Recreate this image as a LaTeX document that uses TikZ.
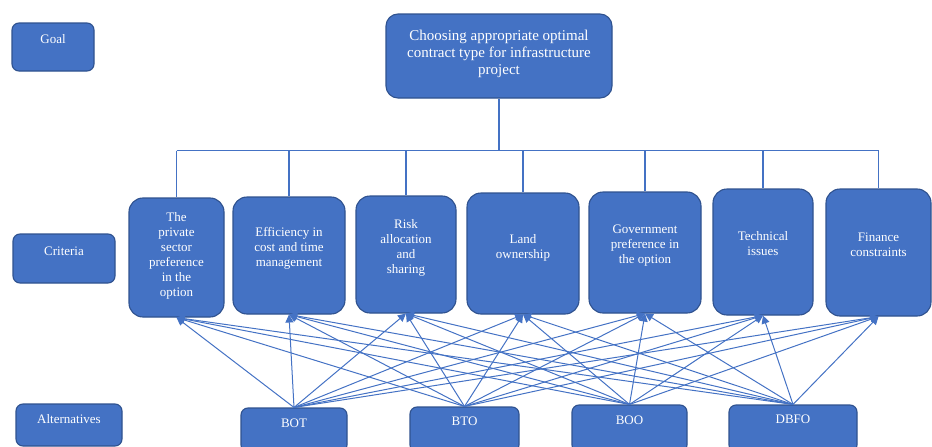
\documentclass[tikz,border=0pt]{standalone}
\usepackage{fontspec}
\setmainfont{Liberation Serif}
\usetikzlibrary{positioning,arrows.meta}
\definecolor{boxblue}{RGB}{68,114,196}
\definecolor{boxedge}{RGB}{47,82,143}
\tikzset{
	box/.style={draw=boxedge, fill=boxblue, line width=1.1pt, rounded corners=#1, inner sep=0pt},
	box/.default=14pt,
	lbl/.style={text=white, inner sep=0pt, align=center, font=\fontsize{13}{15}\selectfont},
	link/.style={draw=boxblue, line width=1.4pt},
	arr/.style={draw=boxblue, line width=1pt, -{Triangle[width=8pt,length=8pt]}}
}

\begin{document}
\begin{tikzpicture}[x=1pt, y=-1pt]
				\clip (0,0) rectangle (932,447);
				
				% levels
				\node[box=7pt, minimum width=82pt, minimum height=48pt] (gl) at (53,47) {};
				\node[lbl, below=12pt of gl.north] (glt) {Goal};
				\node[box=7pt, minimum width=102pt, minimum height=49pt] (cl) at (64,258.5) {};
				\node[lbl, below=13pt of cl.north] (clt) {Criteria};
				\node[box=7pt, minimum width=106pt, minimum height=42pt] (al) at (69,425) {};
				\node[lbl, below=11pt of al.north] (alt) {Alternatives};
				
				% goal
				\node[box=12pt, minimum width=226pt, minimum height=84pt] (goal) at (499,56) {};
				\node[lbl, font=\fontsize{15}{17}\selectfont, below=16pt of goal.north] (goalt) {Choosing appropriate optimal\\contract type for infrastructure\\project};
				
				% criteria
				\node[box, minimum width=95pt, minimum height=119pt] (c1) at (176.5,257.5) {};
				\node[lbl, below=15pt of c1.north] (t1) {The\\private\\sector\\preference\\in the\\option};
				\node[box, minimum width=112pt, minimum height=117pt] (c2) at (289,255.5) {};
				\node[lbl, below=31pt of c2.north] (t2) {Efficiency in\\cost and time\\management};
				\node[box, minimum width=100pt, minimum height=117pt] (c3) at (406,254.5) {};
				\node[lbl, below=24pt of c3.north] (t3) {Risk\\allocation\\and\\sharing};
				\node[box, minimum width=112pt, minimum height=121pt] (c4) at (523,253.5) {};
				\node[lbl, below=42pt of c4.north] (t4) {Land\\ownership};
				\node[box, minimum width=112pt, minimum height=121pt] (c5) at (645,252.5) {};
				\node[lbl, below=33pt of c5.north] (t5) {Government\\preference in\\the option};
				\node[box, minimum width=100pt, minimum height=126pt] (c6) at (763,252) {};
				\node[lbl, below=43pt of c6.north] (t6) {Technical\\issues};
				\node[box, minimum width=105pt, minimum height=127pt] (c7) at (878.5,252.5) {};
				\node[lbl, below=44pt of c7.north] (t7) {Finance\\constraints};
				
				% alternatives
				\node[box=7pt, minimum width=106pt, minimum height=44pt] (a1) at (294,430) {};
				\node[lbl, below=11pt of a1.north] (s1) {BOT};
				\node[box=7pt, minimum width=109pt, minimum height=45pt] (a2) at (464.5,429.5) {};
				\node[lbl, below=10pt of a2.north] (s2) {BTO};
				\node[box=7pt, minimum width=115pt, minimum height=47pt] (a3) at (629.5,428.5) {};
				\node[lbl, below=11pt of a3.north] (s3) {BOO};
				\node[box=7pt, minimum width=128pt, minimum height=47pt] (a4) at (793,428.5) {};
				\node[lbl, below=10pt of a4.north] (s4) {DBFO};
				
				% goal to criteria
				\draw[link] (goal.south) -- ++(0,52) coordinate (hub);
				\draw[link] (c1.north |- hub) -- (c7.north |- hub);
				\foreach \c in {1,...,7}
					\draw[link] (c\c.north |- hub) -- (c\c.north);
				
				% alternatives to criteria
				\foreach \a in {1,...,4}
					\foreach \c in {1,...,7}
						\draw[arr] (a\a.north) -- (c\c.south);
			\end{tikzpicture}
\end{document}
